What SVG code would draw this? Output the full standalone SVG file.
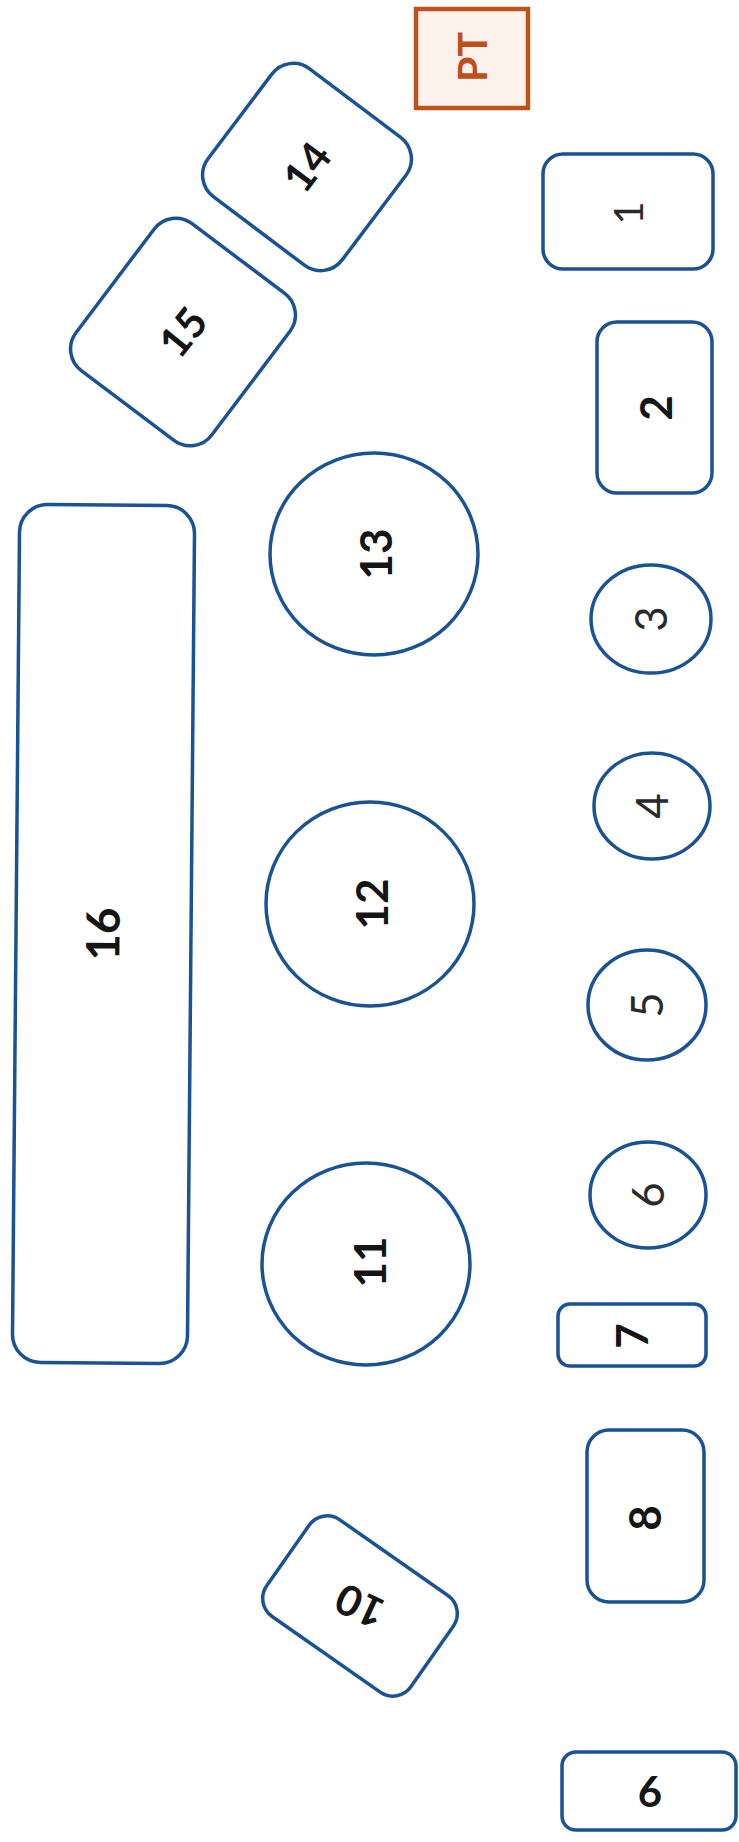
<svg xmlns="http://www.w3.org/2000/svg" width="739" height="1842" viewBox="0 0 739 1842">
<style>
.n{fill:#fff;stroke:#1A5296;stroke-width:3.5}
.t{font-family:Lato,"Liberation Sans",sans-serif;text-anchor:middle;fill:#2a2a2a;font-weight:normal}
.b{font-weight:bold;fill:#151515}
</style>
<rect width="739" height="1842" fill="#fff"/>
<g id="connectors"/>
<g id="node-PT">
<rect x="416" y="9" width="112" height="99" fill="#FDF2EC" stroke="#BF521B" stroke-width="4.5"/>
<text class="t b" x="472" y="57" dy="0.36em" font-size="41" style="fill:#BF4E18" transform="rotate(-90 472 57)">PT</text>
</g>
<g id="node-14" transform="translate(307 167) rotate(37)">
<rect class="n" x="-84" y="-80" width="168" height="160" rx="27"/>
<text class="t b" x="0" y="0" dy="0.36em" font-size="42" transform="rotate(-90)">14</text>
</g>
<g id="node-15" transform="translate(183 332) rotate(37)">
<rect class="n" x="-85" y="-92" width="170" height="184" rx="27"/>
<text class="t b" x="0" y="0" dy="0.36em" font-size="42" transform="rotate(-88)">15</text>
</g>
<g id="node-1">
<rect class="n" x="543" y="154" width="170" height="115" rx="20"/>
<text class="t" x="629" y="213" dy="0.36em" font-size="40" transform="rotate(-90 629 213)">1</text>
</g>
<g id="node-2">
<rect class="n" x="597" y="322" width="115" height="171" rx="20"/>
<text class="t b" x="656" y="408" dy="0.36em" font-size="44" transform="rotate(-90 656 408)">2</text>
</g>
<g id="node-16" transform="rotate(0.5 103 934)">
<rect class="n" x="16" y="505" width="175" height="858" rx="28"/>
<text class="t b" x="103" y="934" dy="0.36em" font-size="46" transform="rotate(-90 103 934)">16</text>
</g>
<g id="node-13">
<ellipse class="n" cx="374" cy="554" rx="104" ry="101"/>
<text class="t b" x="376" y="554" dy="0.36em" font-size="44" transform="rotate(-90 376 554)">13</text>
</g>
<g id="node-12">
<ellipse class="n" cx="370" cy="904" rx="104" ry="102"/>
<text class="t b" x="372" y="904" dy="0.36em" font-size="44" transform="rotate(-90 372 904)">12</text>
</g>
<g id="node-11">
<ellipse class="n" cx="366" cy="1264" rx="104" ry="101"/>
<text class="t b" x="370" y="1262" dy="0.36em" font-size="44" transform="rotate(-90 370 1262)">11</text>
</g>
<g id="node-3">
<ellipse class="n" cx="651" cy="619" rx="60" ry="54"/>
<text class="t" x="651" y="619" dy="0.36em" font-size="44" transform="rotate(-90 651 619)">3</text>
</g>
<g id="node-4">
<ellipse class="n" cx="652" cy="806" rx="58" ry="53"/>
<text class="t" x="652" y="806" dy="0.36em" font-size="44" transform="rotate(-90 652 806)">4</text>
</g>
<g id="node-5">
<ellipse class="n" cx="647" cy="1005" rx="59" ry="55"/>
<text class="t" x="647" y="1005" dy="0.36em" font-size="44" transform="rotate(-90 647 1005)">5</text>
</g>
<g id="node-6">
<ellipse class="n" cx="648" cy="1195" rx="58" ry="53"/>
<text class="t" x="648" y="1195" dy="0.36em" font-size="44" transform="rotate(-90 648 1195)">6</text>
</g>
<g id="node-7">
<rect class="n" x="558" y="1304" width="148" height="62" rx="12"/>
<text class="t b" x="632" y="1336" dy="0.36em" font-size="44" transform="rotate(-90 632 1336)">7</text>
</g>
<g id="node-8">
<rect class="n" x="587" y="1430" width="117" height="172" rx="22"/>
<text class="t b" x="645" y="1518" dy="0.36em" font-size="44" transform="rotate(-90 645 1518)">8</text>
</g>
<g id="node-10" transform="translate(360 1606) rotate(35)">
<rect class="n" x="-88" y="-59" width="176" height="118" rx="22"/>
<text class="t b" x="0" y="0" dy="0.36em" font-size="42" transform="rotate(170)">10</text>
</g>
<g id="node-9">
<rect class="n" x="562" y="1752" width="174" height="78" rx="14"/>
<text class="t b" x="650" y="1792" dy="0.36em" font-size="42">6</text>
</g>
</svg>
